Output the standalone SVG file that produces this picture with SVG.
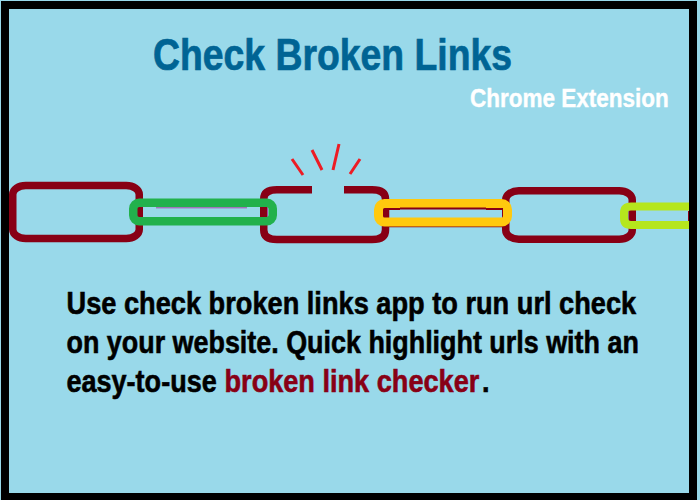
<svg xmlns="http://www.w3.org/2000/svg" width="700" height="500" viewBox="0 0 700 500">
<style>
.link{fill:none;stroke:#880015;stroke-width:7.500}
.t{font-family:"Liberation Sans",sans-serif;font-weight:700}
.body{font-size:32px;fill:#000;stroke:#000;stroke-width:.6}
.red{fill:#880015;stroke:#880015}
.ray{stroke:#ed1c24;stroke-width:3;fill:none}
</style>
<rect width="700" height="500" fill="#99d9ea"/>
<rect x="1" y="1" width="696" height="499" fill="#000"/>
<rect x="9" y="9" width="680" height="484" fill="#99d9ea"/>
<g id="connectors">
<path class="ray" d="M292 159L303 175M312 150L322 170M339 144L333 170M360 159L350 174"/>
</g>
<g id="link1"><rect class="link" x="12.750" y="185.500" width="126.500" height="53" rx="13" ry="9"/></g>
<g id="link3"><path class="link" d="M312 189.750H277Q263.750 189.750 263.750 199V230Q263.750 239.500 277 239.500H372Q385.500 239.500 385.500 230V199Q385.500 189.750 372 189.750H344"/></g>
<g id="link5"><rect class="link" x="505.750" y="190.750" width="126.500" height="48.500" rx="13" ry="9"/></g>
<g id="link2">
<rect x="133.250" y="202.750" width="139.500" height="18.500" rx="6" fill="none" stroke="#22b14c" stroke-width="8.500"/>
<path d="M156 207.800H247M267.500 208V216" fill="none" stroke="#a349a4" stroke-width="1"/>
</g>
<g id="link4">
<path d="M385 226.500H503" fill="none" stroke="#880015" stroke-width="1.500"/>
<rect x="378.500" y="203.500" width="129" height="18.500" rx="6" fill="none" stroke="#ffc90e" stroke-width="9"/>
<path d="M385 209H400M400 208.500H486M486 209H503" fill="none" stroke="#880015" stroke-width="2"/>
</g>
<g id="link6">
<path d="M689 206.500H631Q624 206.500 624 213V218Q624 225 631 225H689" fill="none" stroke="#b5e61d" stroke-width="8"/>
<rect x="688" y="211" width="1" height="10" fill="#880015"/>
</g>
<g id="title">
<text class="t" transform="translate(153 70) scale(.849 1)" font-size="44" fill="#006494" stroke="#006494" stroke-width=".7">Check Broken Links</text>
<text class="t" transform="translate(470 107) scale(.866 1)" font-size="26" fill="#fff" stroke="#fff" stroke-width=".4">Chrome Extension</text>
</g>
<g id="body">
<text class="t body" transform="translate(66.500 314) scale(.85 1)">Use check broken links app to run url check</text>
<text class="t body" transform="translate(66.500 353) scale(.841 1)">on your website. Quick highlight urls with an</text>
<text class="t body" transform="translate(66.500 392) scale(.845 1)">easy-to-use</text>
<text class="t body red" transform="translate(224.500 392) scale(.848 1)">broken link checker</text>
<text class="t body" transform="translate(482 392) scale(.85 1)">.</text>
</g>
</svg>
